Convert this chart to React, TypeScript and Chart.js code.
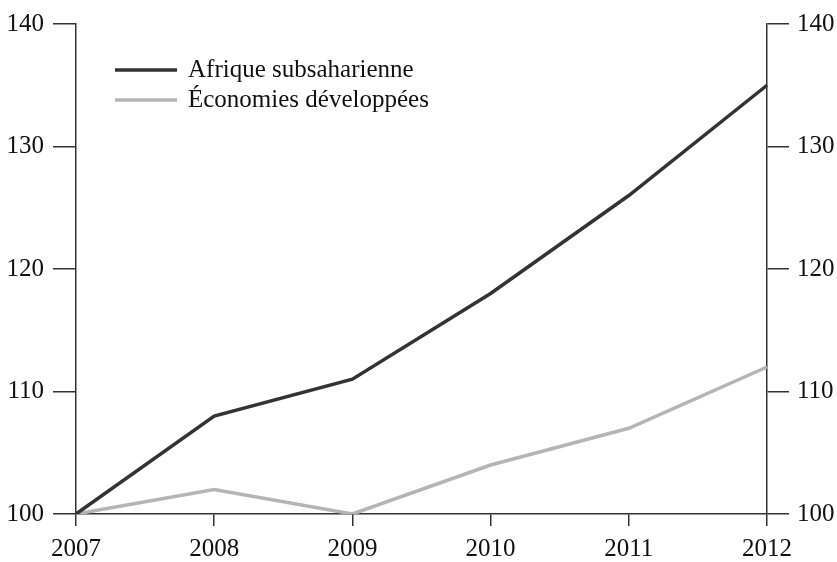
import React, { useEffect, useRef } from "react";
import { Chart, registerables } from "chart.js";

Chart.register(...registerables);

const years = ["2007", "2008", "2009", "2010", "2011", "2012"];
const africa = [100, 108, 111, 118, 126, 135];
const developed = [100, 102, 100, 104, 107, 112];
const seriesNames = ["Afrique subsaharienne", "Économies développées"];
const yTicks = [100, 110, 120, 130, 140];

const FONT = "'Liberation Serif', 'DejaVu Serif', serif";

const legendPlugin = {
  id: "insideLegend",
  afterDraw(chart: any) {
    const ctx = chart.ctx;
    const area = chart.chartArea;
    ctx.save();
    chart.data.datasets.forEach((ds: any, i: number) => {
      const y = area.top + 46 + i * 30;
      ctx.strokeStyle = ds.borderColor;
      ctx.lineWidth = ds.borderWidth;
      ctx.beginPath();
      ctx.moveTo(area.left + 39, y);
      ctx.lineTo(area.left + 101, y);
      ctx.stroke();
      ctx.fillStyle = "#111";
      ctx.font = `25px ${FONT}`;
      ctx.textBaseline = "middle";
      ctx.textAlign = "left";
      ctx.fillText(ds.label, area.left + 112, y);
    });
    ctx.restore();
  },
};

export default function App() {
  const ref = useRef<HTMLCanvasElement | null>(null);
  useEffect(() => {
    if (!ref.current) return;
    const axisColor = "#333";
    const tickFont = { family: FONT, size: 25 };
    const chart = new Chart(ref.current, {
      type: "line",
      data: {
        labels: years,
        datasets: [
          {
            label: seriesNames[0],
            data: africa,
            borderColor: "#333333",
            borderWidth: 3.5,
            pointRadius: 0,
            tension: 0,
            yAxisID: "y",
          },
          {
            label: seriesNames[1],
            data: developed,
            borderColor: "#b5b5b5",
            borderWidth: 3.5,
            pointRadius: 0,
            tension: 0,
            yAxisID: "y",
          },
        ],
      },
      options: {
        animation: false,
        responsive: true,
        maintainAspectRatio: false,
        layout: { padding: { top: 22, left: 0, right: 0, bottom: 0 } },
        plugins: { legend: { display: false }, tooltip: { enabled: false } },
        scales: {
          x: {
            type: "category",
            offset: false,
            grid: {
              drawOnChartArea: false,
              drawTicks: true,
              tickLength: 12,
              tickColor: axisColor,
              lineWidth: 1.5,
            },
            border: { display: true, color: axisColor, width: 1.5 },
            ticks: { color: "#111", font: tickFont, padding: 8, maxRotation: 0 },
            afterFit: (s: any) => {
              s.height = 48;
            },
          },
          y: {
            position: "left",
            min: 100,
            max: 140,
            afterBuildTicks: (s: any) => {
              s.ticks = yTicks.map((v) => ({ value: v }));
            },
            grid: {
              drawOnChartArea: false,
              drawTicks: true,
              tickLength: 23,
              tickColor: axisColor,
              lineWidth: 1.5,
            },
            border: { display: true, color: axisColor, width: 1.5 },
            ticks: { color: "#111", font: tickFont, padding: 9 },
            afterFit: (s: any) => {
              s.width = 76;
            },
          },
          y1: {
            position: "right",
            min: 100,
            max: 140,
            afterBuildTicks: (s: any) => {
              s.ticks = yTicks.map((v) => ({ value: v }));
            },
            grid: {
              drawOnChartArea: false,
              drawTicks: true,
              tickLength: 22,
              tickColor: axisColor,
              lineWidth: 1.5,
            },
            border: { display: true, color: axisColor, width: 1.5 },
            ticks: { color: "#111", font: tickFont, padding: 8 },
            afterFit: (s: any) => {
              s.width = 70;
            },
          },
        },
      },
      plugins: [legendPlugin],
    });
    return () => chart.destroy();
  }, []);
  return (
    <div
      style={{
        position: "fixed",
        left: 0,
        top: 0,
        width: 837,
        height: 562,
        background: "#fff",
      }}
    >
      <canvas ref={ref} />
    </div>
  );
}
